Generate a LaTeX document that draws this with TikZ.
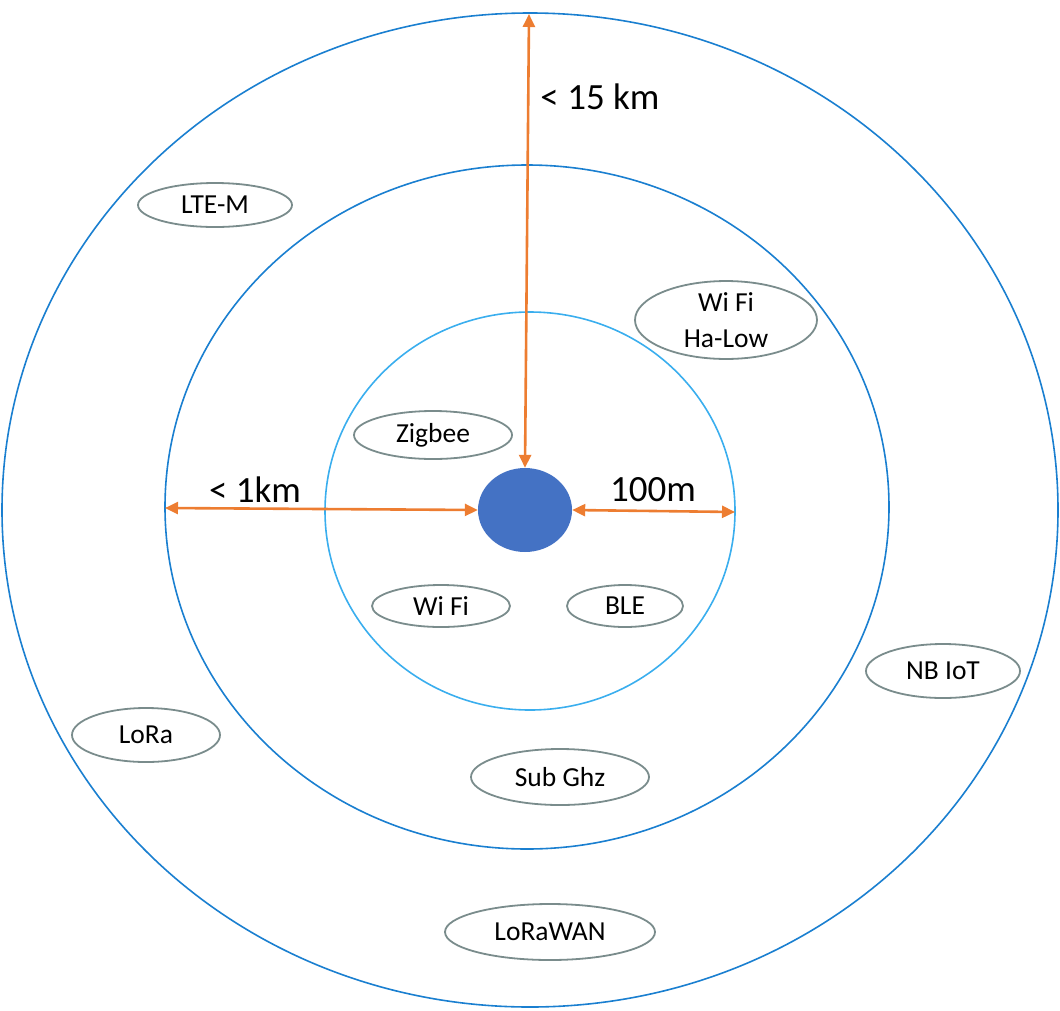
\documentclass[tikz,border=0pt]{standalone}
\usepackage{fontspec}
\setmainfont{Carlito}
\usetikzlibrary{arrows.meta}
\usetikzlibrary{shapes.geometric}
\definecolor{ringblue}{HTML}{1A7FD0}
\definecolor{ringlight}{HTML}{3AAEEE}
\definecolor{dotblue}{HTML}{4472C4}
\definecolor{rangeorange}{HTML}{ED7D31}
\definecolor{tagline}{HTML}{7A8C8C}
\tikzset{
	ring/.style={draw=ringblue, line width=1.6pt},
	tag/.style={draw=tagline, line width=1.8pt, ellipse, inner sep=0pt, font=\fontsize{27.5}{36}\selectfont, align=center},
	rangearrow/.style={draw=rangeorange, line width=2.6pt, {Triangle[length=13pt,width=12pt]}-{Triangle[length=13pt,width=12pt]}},
	rangelabel/.style={font=\fontsize{37}{42}\selectfont}
}
\newcommand{\tech}[6] % name, x, y, width, height, text
{
	\node[tag, minimum width=#4, minimum height=#5] (#1) at (#2,#3) {#6};
}
\begin{document}
\begin{tikzpicture}[x=1pt, y=-1pt]
	% canvas 1060 x 1010
	\useasboundingbox (0,0) rectangle (1060,1010);
	% coverage rings
	\draw[ring] (530,510) ellipse (528 and 497);
	\draw[ring] (527,507) ellipse (362 and 342);
	\draw[ring, draw=ringlight] (530,511) ellipse (205 and 199);
	% device
	\node[ellipse, fill=dotblue, minimum width=94, minimum height=84, inner sep=0pt] (dev) at (525,510) {};
	% ends of the ranges
	\coordinate (top) at (529,14);
	\coordinate (left) at (165,508);
	\coordinate (right) at (735,512);
	\draw[rangearrow] (top) -- (dev.north);
	\draw[rangearrow] (left) -- (dev.west);
	\draw[rangearrow] (dev.east) -- (right);
	\node[rangelabel] (km15) at (600,97) {< 15 km};
	\node[rangelabel] (km1) at (255,490) {< 1km};
	\node[rangelabel] (m100) at (653,490) {100m};
	% technologies
	\tech{ltem}{215}{205}{154}{44}{LTE-M};
	\tech{halow}{726}{320}{182}{64}{Wi Fi\\Ha-Low};
	\tech{zigbee}{433}{435}{158}{48}{Zigbee};
	\tech{wifi}{441}{606}{138}{42}{Wi Fi};
	\tech{ble}{625}{606}{116}{42}{BLE};
	\tech{nbiot}{943}{671}{154}{54}{NB IoT};
	\tech{lora}{146}{735}{148}{54}{LoRa};
	\tech{subghz}{560}{777}{178}{56}{Sub Ghz};
	\tech{lorawan}{550}{932}{210}{56}{LoRaWAN};
\end{tikzpicture}
\end{document}
